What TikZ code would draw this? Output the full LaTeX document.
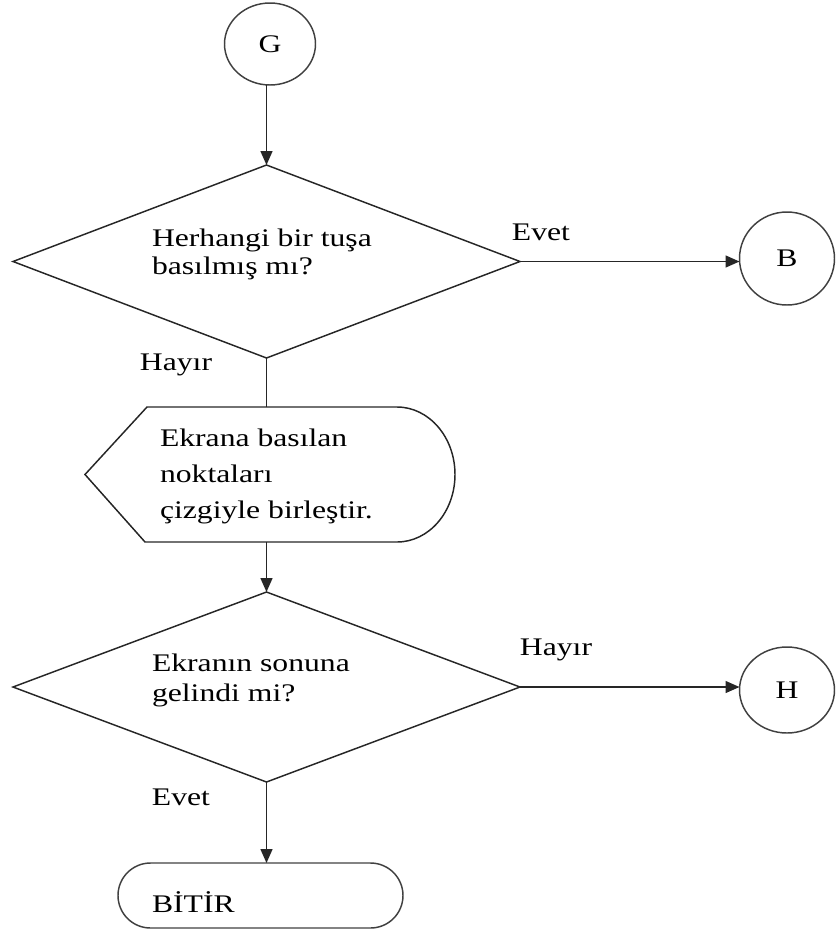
\documentclass[tikz,border=0pt]{standalone}
\usepackage{fontspec}
\setmainfont{Liberation Serif}[FakeStretch=1.25]
\usetikzlibrary{shapes.geometric,shapes.misc,arrows.meta,calc}

\begin{document}
\begin{tikzpicture}[x=0.75pt,y=-0.75pt,
  line width=1.1pt,
  every node/.style={font=\fontsize{19}{21}\selectfont, inner sep=0pt, outer sep=0pt},
  conn/.style={draw=black!85},
  arr/.style={conn,-{Triangle[length=10.5pt,width=9pt]}},
  connector/.style={ellipse, draw=black!75},
  decision/.style={diamond, draw=black!85},
  terminal/.style={rounded rectangle, draw=black!75},
  txt/.style={anchor=west, align=left},
]
\useasboundingbox (0,0) rectangle (840,933);

% on-page connectors
\node[connector, minimum width=68.25pt, minimum height=61.5pt] (G) at (270,44) {G};
\node[connector, minimum width=71.25pt, minimum height=69.75pt] (B) at (787,258.5) {B};
\node[connector, minimum width=71.25pt, minimum height=64.5pt] (H) at (787,690) {H};

% decisions
\node[decision, minimum width=380.25pt, minimum height=144.75pt] (d1) at (266.5,261.5) {};
\node[txt] (q1) at (152,254) {Herhangi bir tuşa\\basılmış mı?};
\node[decision, minimum width=380.25pt, minimum height=142.5pt] (d2) at (266.5,687) {};
\node[txt, font=\fontsize{19}{22.5}\selectfont] (q2) at (152,680) {Ekranın sonuna\\gelindi mi?};

% display step
\node[minimum width=277.5pt, minimum height=101.25pt] (disp) at (270,474.5) {};
\draw[conn] (disp.west) -- ($(disp.north west)+(62,0)$) -- ($(disp.north east)+(-58,0)$)
  .. controls ($(disp.north east)+(-26,0)$) and ($(disp.east)+(0,-37.3)$) .. (disp.east)
  .. controls ($(disp.east)+(0,37.3)$) and ($(disp.south east)+(-26,0)$) .. ($(disp.south east)+(-58,0)$)
  -- ($(disp.south west)+(60,0)$) -- cycle;
\node[txt, font=\fontsize{19}{27}\selectfont] (p1) at (160,476) {Ekrana basılan\\noktaları\\çizgiyle birleştir.};

% end
\node[terminal, minimum width=213.75pt, minimum height=48.75pt] (end) at (260.5,895.5) {};
\node[txt] (tEnd) at (152,902) {BİTİR};

% branch labels
\node (lY1) at (541,232) {Evet};
\node (lN1) at (176,365) {Hayır};
\node (lN2) at (556,650) {Hayır};
\node (lY2) at (181,797) {Evet};

% flow
\draw[arr] (d1.north |- G.south) -- (d1.north);
\draw[arr] (d1.east) -- (d1.east -| B.west);
\draw[conn] (d1.south) -- (d1.south |- disp.north);
\draw[arr] (d2.north |- disp.south) -- (d2.north);
\draw[arr] (d2.east) -- (d2.east -| H.west);
\draw[arr] (d2.south) -- (d2.south |- end.north);
\end{tikzpicture}
\end{document}
